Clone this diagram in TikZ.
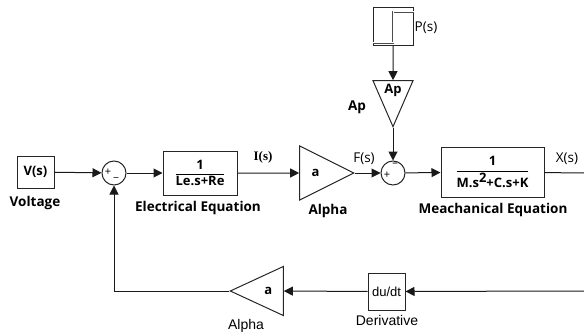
\documentclass[tikz,border=0pt]{standalone}
\usepackage{amsmath}
\usepackage{fontspec}
\setmainfont{Open Sans}
\newfontfamily\arialfont{Liberation Sans}
\newfontfamily\timesfont{Liberation Serif}
\usepackage{tikz}
\usetikzlibrary{shapes,arrows.meta,positioning,calc}

\begin{document}
\begin{tikzpicture}[
        x=1pt, y=-1pt,
        line width=1pt,
        blk/.style={rectangle, draw=black!85, inner sep=0pt, font=\bfseries\fontsize{13}{15}\selectfont},
        gain/.style={isosceles triangle, isosceles triangle stretches, draw=black!85, inner sep=0pt, font=\bfseries\fontsize{13}{15}\selectfont},
        sumc/.style={circle, draw=black!85, minimum size=24pt, inner sep=0pt},
        sgn/.style={inner sep=0pt, font=\fontsize{11}{11}\selectfont},
        lbl/.style={inner sep=0pt, font=\bfseries\fontsize{13.5}{15}\selectfont},
        sigtxt/.style={inner sep=0pt, font=\fontsize{13.5}{15}\selectfont},
        botlbl/.style={inner sep=0pt, font=\arialfont\fontsize{14}{16}\selectfont},
        arrow/.style={-{Triangle[length=9pt,width=9pt]}, draw=black!90}
    ]
    \useasboundingbox (0,0) rectangle (584,332);

    % forward path
    \node[blk, minimum width=37pt, minimum height=32pt] (vsrc) at (35.5,172) {V(s)};
    \node[lbl] (vlbl) at (35,203) {Voltage};
    \node[sumc] (sum1) at (114,173) {};
    \node[sgn] (sum1p) at (108,172) {+};
    \node[sgn] (sum1m) at (116,177) {\_};
    \node[blk, minimum width=74pt, minimum height=44pt] (elec) at (200,173) {$\dfrac{\textbf{1}}{\text{\bfseries Le.s+Re}}$};
    \node[lbl] (elbl) at (198,208) {Electrical Equation};
    \node[sigtxt, font=\timesfont\bfseries\fontsize{13}{15}\selectfont] (ilbl) at (263,157) {I(s)};
    \node[gain, minimum width=54pt, minimum height=54pt, anchor=apex] (alpha1) at (355,173) {a};
    \node[lbl] (a1lbl) at (328,211) {Alpha};
    \node[sigtxt] (flbl) at (364,159) {F(s)};
    \node[sumc] (sum2) at (393,173) {};
    \node[sgn] (sum2p) at (387,175) {+};
    \node[sgn] (sum2m) at (395,165) {\textendash};
    \node[blk, minimum width=103pt, minimum height=50pt] (mech) at (492.5,172) {$\dfrac{\textbf{1}}{\text{\bfseries M.s\raisebox{0.4em}{2}+C.s+K}}$};
    \node[lbl] (mlbl) at (493,210) {Meachanical Equation};
    \node[sigtxt] (xlbl) at (567,159) {X(s)};
    \coordinate (xout) at (584,173);

    % disturbance
    \node[blk, minimum width=40pt, minimum height=38pt] (pstep) at (393,26) {};
    \draw[black!70, double=white, double distance=1pt, line width=0.5pt] ($(pstep.south west)+(0,-3)$) -| ($(pstep.north)+(0,5)$) -- ($(pstep.north east)+(0,5)$);
    \node[sigtxt] (plbl) at (426,28) {P(s)};
    \node[gain, shape border rotate=270, minimum width=40pt, minimum height=46pt, anchor=apex] (apgain) at (393,128) {Ap};
    \node[lbl] (aplbl) at (357,107) {Ap};

    % feedback
    \coordinate (fbin) at (584,291);
    \node[blk, minimum width=37pt, minimum height=37pt, font=\arialfont\fontsize{13}{15}\selectfont] (deriv) at (386.5,291.5) {du/dt};
    \node[botlbl] (dlbl) at (387,320) {Derivative};
    \node[gain, shape border rotate=180, minimum width=49pt, minimum height=53pt, anchor=apex] (alpha2) at (229,291) {a};
    \node[botlbl] (a2lbl) at (246,326) {Alpha};

    \draw[arrow] (vsrc) -- (sum1);
    \draw[arrow] (sum1) -- (elec);
    \draw[arrow] (elec) -- (alpha1);
    \draw[arrow] (alpha1.apex) -- (sum2);
    \draw[arrow] (sum2) -- (mech);
    \draw[black!90] (mech) -- (xout);
    \draw[arrow] (pstep) -- (apgain);
    \draw[arrow] (apgain.apex) -- (sum2);
    \draw[arrow] (fbin) -- (deriv);
    \draw[arrow] (deriv) -- (alpha2);
    \draw[arrow] (alpha2.apex) -| (sum1);

\end{tikzpicture}
\end{document}
